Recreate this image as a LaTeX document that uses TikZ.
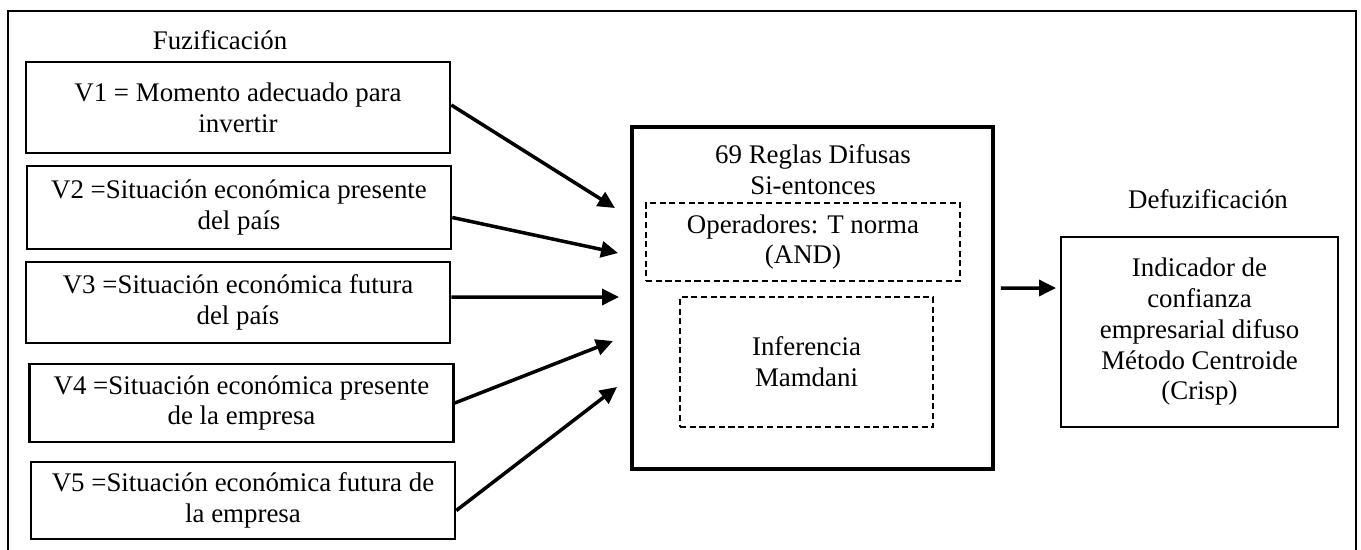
\documentclass[tikz,border=0pt]{standalone}
\usepackage{fontspec}
\setmainfont{Liberation Serif}
\usetikzlibrary{arrows.meta}

\begin{document}
\begin{tikzpicture}[x=0.02cm, y=-0.02cm,
    every node/.style={font=\fontsize{15.3}{17.5}\selectfont, align=center, inner sep=0pt},
    varbox/.style={draw, line width=1.5pt, minimum width=8.48cm},
    dashbox/.style={draw, line width=1.3pt, dash pattern=on 3.5pt off 2pt},
    flow/.style={line width=2pt, -{Triangle[length=0.34cm, width=0.32cm]}}
    ]
    \useasboundingbox (0,0) rectangle (1361,549);
    \draw[line width=1.5pt] (8,552) -- (8,11) -- (1356,11) -- (1356,552);

    % entradas
    \node (fuz) at (220,40) {Fuzificación};
    \node[varbox, minimum height=1.82cm] (v1) at (238,107.5) {V1 = Momento adecuado para\\invertir};
    \node[varbox, minimum height=1.66cm] (v2) at (239,207.5) {V2 =Situación económica presente\\del país};
    \node[varbox, minimum height=1.62cm] (v3) at (238,302.5) {V3 =Situación económica futura\\del país};
    \node[varbox, minimum height=1.56cm] (v4) at (241.5,403) {V4 =Situación económica presente\\de la empresa};
    \node[varbox, minimum height=1.54cm] (v5) at (243,500.5) {V5 =Situación económica futura de\\la empresa};

    % reglas
    \node[draw, line width=2.2pt, minimum width=7.22cm, minimum height=6.84cm] (rules) at (812.5,298) {};
    \node (title) at (813,170) {69 Reglas Difusas\\Si-entonces};
    \node[dashbox, minimum width=6.28cm, minimum height=1.56cm] (tnorm) at (803,242) {Operadores: T norma\\(AND)};
    \node[dashbox, minimum width=5.06cm, minimum height=2.6cm] (mamdani) at (806.5,362) {Inferencia\\Mamdani};

    % salida
    \node (defuz) at (1208,199) {Defuzificación};
    \node[draw, line width=1.5pt, minimum width=5.54cm, minimum height=3.8cm] (out) at (1199.5,332)
      {Indicador de\\confianza\\empresarial difuso\\Método Centroide\\(Crisp)};

    \coordinate (a1) at (615,208);
    \coordinate (a2) at (618,253);
    \coordinate (a3) at (619,297);
    \coordinate (a4) at (613,341);
    \coordinate (a5) at (617,387);
    \coordinate (d1) at (1056,288);

    \draw[flow] ([yshift=0.05cm]v1.east) -- (a1);
    \draw[flow] ([yshift=-0.2cm]v2.east) -- (a2);
    \draw[flow] ([yshift=0.11cm]v3.east) -- (a3);
    \draw[flow] (v4.east) -- (a4);
    \draw[flow] ([yshift=-0.2cm]v5.east) -- (a5);
    \draw[flow] ([xshift=0.12cm, yshift=0.2cm]rules.east) -- (d1);
\end{tikzpicture}
\end{document}
